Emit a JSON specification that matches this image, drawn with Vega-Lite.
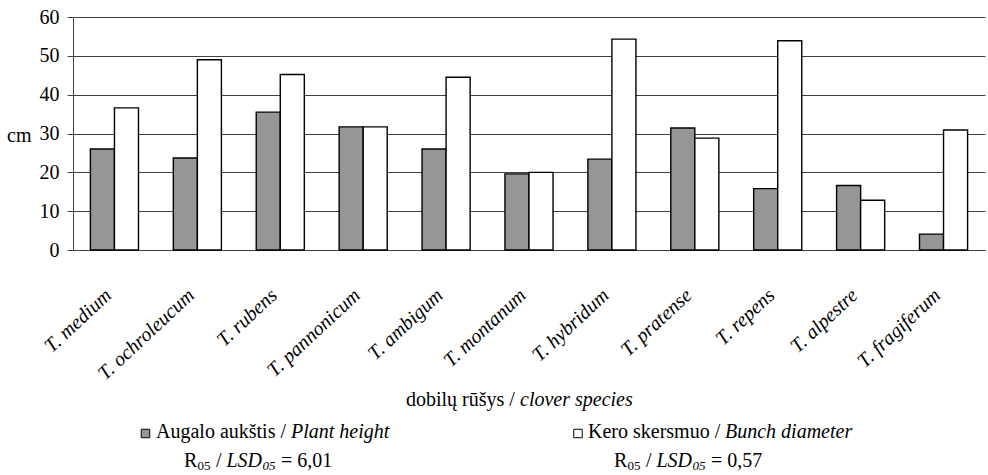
{
  "$schema": "https://vega.github.io/schema/vega-lite/v6.json",
  "background": "white",
  "padding": {"left": 6, "top": 7, "right": 4, "bottom": 0},
  "bounds": "flush",
  "spacing": 0,
  "config": {"font": "Liberation Serif, Times New Roman, Times, DejaVu Serif, serif", "view": {"stroke": null}},
  "datasets": {
    "bars": [
      {"species": "T. medium", "series": "Augalo aukštis", "value": 26.0},
      {"species": "T. medium", "series": "Kero skersmuo", "value": 36.6},
      {"species": "T. ochroleucum", "series": "Augalo aukštis", "value": 23.7},
      {"species": "T. ochroleucum", "series": "Kero skersmuo", "value": 49.0},
      {"species": "T. rubens", "series": "Augalo aukštis", "value": 35.5},
      {"species": "T. rubens", "series": "Kero skersmuo", "value": 45.2},
      {"species": "T. pannonicum", "series": "Augalo aukštis", "value": 31.7},
      {"species": "T. pannonicum", "series": "Kero skersmuo", "value": 31.7},
      {"species": "T. ambigum", "series": "Augalo aukštis", "value": 26.0},
      {"species": "T. ambigum", "series": "Kero skersmuo", "value": 44.5},
      {"species": "T. montanum", "series": "Augalo aukštis", "value": 19.6},
      {"species": "T. montanum", "series": "Kero skersmuo", "value": 20.0},
      {"species": "T. hybridum", "series": "Augalo aukštis", "value": 23.4},
      {"species": "T. hybridum", "series": "Kero skersmuo", "value": 54.3},
      {"species": "T. pratense", "series": "Augalo aukštis", "value": 31.4},
      {"species": "T. pratense", "series": "Kero skersmuo", "value": 28.8},
      {"species": "T. repens", "series": "Augalo aukštis", "value": 15.8},
      {"species": "T. repens", "series": "Kero skersmuo", "value": 53.9},
      {"species": "T. alpestre", "series": "Augalo aukštis", "value": 16.6},
      {"species": "T. alpestre", "series": "Kero skersmuo", "value": 12.8},
      {"species": "T. fragiferum", "series": "Augalo aukštis", "value": 4.1},
      {"species": "T. fragiferum", "series": "Kero skersmuo", "value": 30.9}
    ],
    "keys": [
      {"series": "Augalo aukštis", "x": 144.5, "y": 433.5},
      {"series": "Kero skersmuo", "x": 577, "y": 433.5}
    ],
    "notes": [
      {"t": "dobilų rūšys /", "s": "n", "x": 405, "y": 406},
      {"t": "clover species", "s": "i", "x": 519, "y": 406},
      {"t": "Augalo aukštis /", "s": "n", "x": 155, "y": 438},
      {"t": "Plant height", "s": "i", "x": 290, "y": 438},
      {"t": "Kero skersmuo /", "s": "n", "x": 587, "y": 438},
      {"t": "Bunch diameter", "s": "i", "x": 724, "y": 438},
      {"t": "R", "s": "n", "x": 183, "y": 467},
      {"t": "05", "s": "ns", "x": 196.5, "y": 469.5},
      {"t": "/", "s": "n", "x": 215, "y": 467},
      {"t": "LSD", "s": "i", "x": 225.5, "y": 467},
      {"t": "05", "s": "is", "x": 261.5, "y": 469.5},
      {"t": "= 6,01", "s": "n", "x": 280, "y": 467},
      {"t": "R", "s": "n", "x": 613, "y": 467},
      {"t": "05", "s": "ns", "x": 626.5, "y": 469.5},
      {"t": "/", "s": "n", "x": 645, "y": 467},
      {"t": "LSD", "s": "i", "x": 655.5, "y": 467},
      {"t": "05", "s": "is", "x": 691.5, "y": 469.5},
      {"t": "= 0,57", "s": "n", "x": 710, "y": 467}
    ]
  },
  "vconcat": [
    {
      "width": 912,
      "height": 233,
      "data": {"name": "bars"},
      "mark": {"type": "bar", "stroke": "#000000", "strokeWidth": 1.4},
      "encoding": {
        "x": {
          "field": "species", "type": "nominal", "sort": null,
          "scale": {"paddingInner": 0.42, "paddingOuter": 0.21},
          "axis": {
            "title": null, "labelAngle": -43, "labelAlign": "right", "labelBaseline": "middle",
            "labelFontStyle": "italic", "labelFontSize": 20,
            "labelColor": "#000000", "labelPadding": 42, "labelOffset": -6, "labelLimit": 0,
            "ticks": false, "domainColor": "#404040", "grid": false
          }
        },
        "xOffset": {
          "field": "series", "type": "nominal", "sort": ["Augalo aukštis", "Kero skersmuo"],
          "scale": {"paddingInner": 0, "paddingOuter": 0}
        },
        "y": {
          "field": "value", "type": "quantitative",
          "scale": {"domain": [0, 60], "nice": false},
          "axis": {
            "values": [0, 10, 20, 30, 40, 50, 60],
            "title": "cm", "titleAngle": 0, "titleAlign": "right", "titleBaseline": "middle",
            "titleX": -42, "titleY": 118, "titleFontSize": 20,
            "titleFontWeight": "normal", "titleColor": "#000000",
            "labelFontSize": 20, "labelColor": "#000000",
            "labelPadding": 8, "tickSize": 6, "tickColor": "#404040", "domainColor": "#404040",
            "grid": true, "gridColor": "#404040"
          }
        },
        "fill": {
          "field": "series", "type": "nominal",
          "scale": {"domain": ["Augalo aukštis", "Kero skersmuo"], "range": ["#969696", "#ffffff"]},
          "legend": null
        }
      }
    },
    {
      "width": 912,
      "height": 225,
      "encoding": {
        "x": {"field": "x", "type": "quantitative", "scale": {"domain": [72, 984], "nice": false, "zero": false}, "axis": null},
        "y": {"field": "y", "type": "quantitative", "scale": {"domain": [250, 475], "nice": false, "zero": false, "reverse": true}, "axis": null}
      },
      "layer": [
        {
          "data": {"name": "keys"},
          "mark": {"type": "point", "shape": "square", "filled": true, "size": 72, "stroke": "#000000", "strokeWidth": 1, "opacity": 1},
          "encoding": {
            "fill": {
              "field": "series", "type": "nominal",
              "scale": {"domain": ["Augalo aukštis", "Kero skersmuo"], "range": ["#969696", "#ffffff"]},
              "legend": null
            }
          }
        },
        {
          "data": {"name": "notes"},
          "transform": [{"filter": "datum.s == 'n'"}],
          "mark": {"type": "text", "align": "left", "baseline": "alphabetic", "fontSize": 20, "color": "#000000"},
          "encoding": {"text": {"field": "t"}}
        },
        {
          "data": {"name": "notes"},
          "transform": [{"filter": "datum.s == 'i'"}],
          "mark": {"type": "text", "align": "left", "baseline": "alphabetic", "fontStyle": "italic", "fontSize": 20, "color": "#000000"},
          "encoding": {"text": {"field": "t"}}
        },
        {
          "data": {"name": "notes"},
          "transform": [{"filter": "datum.s == 'ns'"}],
          "mark": {"type": "text", "align": "left", "baseline": "alphabetic", "fontSize": 13, "color": "#000000"},
          "encoding": {"text": {"field": "t"}}
        },
        {
          "data": {"name": "notes"},
          "transform": [{"filter": "datum.s == 'is'"}],
          "mark": {"type": "text", "align": "left", "baseline": "alphabetic", "fontStyle": "italic", "fontSize": 13, "color": "#000000"},
          "encoding": {"text": {"field": "t"}}
        }
      ]
    }
  ]
}
